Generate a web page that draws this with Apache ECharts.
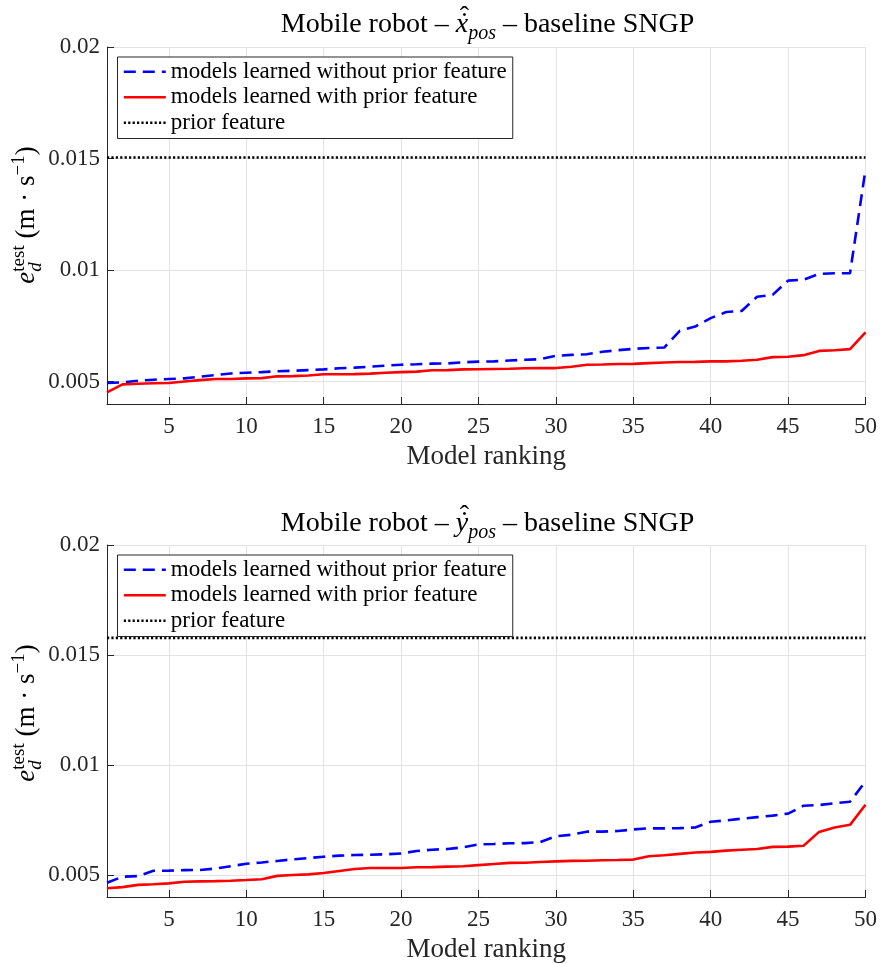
<!DOCTYPE html>
<html>
<head>
<meta charset="utf-8">
<script src="https://cdn.jsdelivr.net/npm/echarts@6/dist/echarts.min.js"></script>
<style>
  html, body { margin: 0; padding: 0; background: #fff; }
  #chart { width: 880px; height: 964px; }
</style>
</head>
<body>
<div id="chart"></div>
<script>
// Model ranking (x values)
const ranking = [1, 2, 3, 4, 5, 6, 7, 8, 9, 10, 11, 12, 13, 14, 15, 16, 17, 18, 19, 20,
  21, 22, 23, 24, 25, 26, 27, 28, 29, 30, 31, 32, 33, 34, 35, 36, 37, 38, 39, 40,
  41, 42, 43, 44, 45, 46, 47, 48, 49, 50];

// Tick positions and labels
const xTicks = [5, 10, 15, 20, 25, 30, 35, 40, 45, 50];
const yTicks = [0.005, 0.01, 0.015, 0.02];
const yTickLabels = ['0.005', '0.01', '0.015', '0.02'];

// x_pos test error, sorted per model
const xPosWithout = [0.00494, 0.00497, 0.00504, 0.00509, 0.00512, 0.00515, 0.00522, 0.00530, 0.00537, 0.00540,
  0.00543, 0.00547, 0.00549, 0.00552, 0.00555, 0.00560, 0.00563, 0.00567, 0.00572, 0.00576,
  0.00578, 0.00581, 0.00582, 0.00587, 0.00590, 0.00591, 0.00595, 0.00598, 0.00601, 0.00616,
  0.00620, 0.00623, 0.00634, 0.00641, 0.00647, 0.00651, 0.00653, 0.00728, 0.00747, 0.00785,
  0.00812, 0.00817, 0.00881, 0.00889, 0.00953, 0.00957, 0.00983, 0.00986, 0.00986, 0.01451];
const xPosWith = [0.00452, 0.00488, 0.00491, 0.00493, 0.00494, 0.00501, 0.00507, 0.00512, 0.00512, 0.00515,
  0.00516, 0.00524, 0.00525, 0.00528, 0.00533, 0.00533, 0.00534, 0.00536, 0.00540, 0.00543,
  0.00545, 0.00551, 0.00552, 0.00555, 0.00556, 0.00557, 0.00558, 0.00560, 0.00561, 0.00561,
  0.00567, 0.00576, 0.00577, 0.00579, 0.00580, 0.00583, 0.00586, 0.00588, 0.00589, 0.00591,
  0.00591, 0.00594, 0.00598, 0.00610, 0.00612, 0.00619, 0.00638, 0.00641, 0.00646, 0.00721];
const xPosPrior = 0.01505;

// y_pos test error, sorted per model
const yPosWithout = [0.00465, 0.00492, 0.00495, 0.00519, 0.00520, 0.00522, 0.00523, 0.00529, 0.00540, 0.00551,
  0.00557, 0.00564, 0.00571, 0.00577, 0.00583, 0.00588, 0.00591, 0.00592, 0.00594, 0.00598,
  0.00609, 0.00615, 0.00618, 0.00626, 0.00639, 0.00641, 0.00644, 0.00645, 0.00650, 0.00676,
  0.00683, 0.00697, 0.00697, 0.00700, 0.00707, 0.00712, 0.00712, 0.00713, 0.00716, 0.00742,
  0.00748, 0.00756, 0.00763, 0.00770, 0.00779, 0.00815, 0.00818, 0.00826, 0.00833, 0.00925];
const yPosWith = [0.00440, 0.00445, 0.00455, 0.00458, 0.00462, 0.00469, 0.00471, 0.00472, 0.00474, 0.00477,
  0.00481, 0.00496, 0.00500, 0.00503, 0.00509, 0.00518, 0.00527, 0.00532, 0.00532, 0.00532,
  0.00535, 0.00536, 0.00538, 0.00540, 0.00545, 0.00550, 0.00555, 0.00556, 0.00559, 0.00562,
  0.00564, 0.00565, 0.00567, 0.00568, 0.00570, 0.00585, 0.00590, 0.00596, 0.00602, 0.00605,
  0.00611, 0.00615, 0.00618, 0.00628, 0.00629, 0.00633, 0.00696, 0.00716, 0.00728, 0.00819];
const yPosPrior = 0.01578;

const seriesNames = ['models learned without prior feature', 'models learned with prior feature', 'prior feature'];
const xName = 'Model ranking';
const xRange = [1, 50];
const yRange = [0.004, 0.02];

const FONT = '"Liberation Serif", "Times New Roman", serif';
const AXIS_COLOR = '#262626';
const GRID_COLOR = '#e3e3e3';
const LINE_W = 2.6;

const mctx = document.createElement('canvas').getContext('2d');
function textWidth(t, size, italic) {
  mctx.font = (italic ? 'italic ' : '') + size + 'px ' + FONT;
  return mctx.measureText(t).width;
}

// Lays out a run of text pieces on a common baseline; pieces flagged
// "stack" share the horizontal slot of the preceding piece.
function layoutRun(pieces) {
  let x = 0;
  const out = [];
  let slotStart = 0, slotWidth = 0;
  pieces.forEach(p => {
    const w = textWidth(p.t, p.s, p.it);
    let px;
    if (p.stack) {
      px = slotStart;
      slotWidth = Math.max(slotWidth, w);
      x = slotStart + slotWidth;
    } else {
      px = x;
      slotStart = x;
      slotWidth = w;
      x += w;
    }
    out.push({ p, x: px, w });
  });
  return { items: out, width: x };
}

function textEl(t, x, baseline, size, italic, align) {
  return {
    type: 'text',
    x: x,
    y: baseline - 0.3375 * size,
    style: {
      text: t,
      fontSize: size,
      fontFamily: FONT,
      fontStyle: italic ? 'italic' : 'normal',
      fill: '#000',
      align: align || 'left',
      verticalAlign: 'middle'
    }
  };
}

// Panel title with a dotted-hat symbol and "pos" subscript
function buildTitle(cx, baseline, symbol) {
  const S = 28, s = 20;
  const pieces = [
    { t: 'Mobile robot \u2013 ', s: S },
    { t: symbol, s: S, it: true, accent: true },
    { t: 'pos', s: s, it: true, dy: 6 },
    { t: ' \u2013 baseline SNGP', s: S }
  ];
  const run = layoutRun(pieces);
  const x0 = cx - run.width / 2;
  const els = [];
  run.items.forEach(({ p, x, w }) => {
    els.push(textEl(p.t, x0 + x, baseline + (p.dy || 0), p.s, p.it));
    if (p.accent) {
      const ac = x0 + x + w / 2 + 2.5;
      els.push(textEl('\u02D9', ac, baseline - 1, S, false, 'center'));
      els.push(textEl('\u02C6', ac, baseline - 7, S, false, 'center'));
    }
  });
  return els;
}

// Rotated y-axis label: e_d^test (m · s^-1)
function buildYLabel(cx, cy) {
  const pieces = [
    { t: 'e', s: 27, it: true },
    { t: 'test', s: 19, dy: -11 },
    { t: 'd', s: 19, it: true, dy: 6, stack: true },
    { t: ' (m \u00B7 s', s: 27 },
    { t: '\u22121', s: 19, dy: -11 },
    { t: ')', s: 27 }
  ];
  const run = layoutRun(pieces);
  const x0 = -run.width / 2;
  const base = 8;
  const children = run.items.map(({ p, x }) =>
    textEl(p.t, x0 + x, base + (p.dy || 0), p.s, p.it));
  return { type: 'group', x: cx, y: cy, rotation: Math.PI / 2, children };
}

const panels = [
  { top: 47, without: xPosWithout, withP: xPosWith, prior: xPosPrior, symbol: 'x', legendTop: 57, titleBase: 34 },
  { top: 545, without: yPosWithout, withP: yPosWith, prior: yPosPrior, symbol: 'y', legendTop: 555, titleBase: 533 }
];
const GRID_LEFT = 107, GRID_WIDTH = 761, GRID_HEIGHT = 357;

const option = {
  backgroundColor: '#fff',
  animation: false,
  grid: panels.map(p => ({ left: GRID_LEFT, top: p.top, width: GRID_WIDTH, height: GRID_HEIGHT })),
  xAxis: panels.map((p, i) => ({
    type: 'value', gridIndex: i, min: xRange[0], max: xRange[1],
    name: xName, nameLocation: 'middle', nameGap: 39,
    nameTextStyle: { fontSize: 27, fontFamily: FONT, color: AXIS_COLOR },
    axisLine: { show: true, lineStyle: { color: AXIS_COLOR, width: 1 } },
    axisTick: { show: true, inside: true, length: 7, customValues: xTicks, lineStyle: { color: AXIS_COLOR } },
    axisLabel: { customValues: xTicks, fontSize: 23, fontFamily: FONT, color: AXIS_COLOR, margin: 11 },
    splitLine: { show: true, lineStyle: { color: GRID_COLOR, width: 1 } }
  })),
  yAxis: panels.map((p, i) => ({
    type: 'value', gridIndex: i, min: yRange[0], max: yRange[1],
    axisLine: { show: true, lineStyle: { color: AXIS_COLOR, width: 1 } },
    axisTick: { show: true, inside: true, length: 7, customValues: yTicks, lineStyle: { color: AXIS_COLOR } },
    axisLabel: {
      customValues: yTicks, fontSize: 23, fontFamily: FONT, color: AXIS_COLOR, margin: 7,
      formatter: v => yTickLabels[yTicks.findIndex(t => Math.abs(t - v) < 1e-9)] ?? ''
    },
    splitLine: { show: true, lineStyle: { color: GRID_COLOR, width: 1 } }
  })),
  legend: panels.map(p => ({
    orient: 'vertical', left: 117.5, top: p.legendTop,
    data: seriesNames,
    itemWidth: 42, itemHeight: 14, itemGap: 0,
    padding: [2, 6, 3, 5],
    borderColor: AXIS_COLOR, borderWidth: 1, backgroundColor: '#fff',
    itemStyle: { opacity: 0 },
    lineStyle: { width: LINE_W },
    textStyle: { fontSize: 23, fontFamily: FONT, color: '#000', lineHeight: 25.5 },
    selectedMode: false, z: 10
  })),
  series: panels.flatMap((p, i) => [
    {
      name: seriesNames[0], type: 'line', xAxisIndex: i, yAxisIndex: i,
      data: ranking.map((r, k) => [r, p.without[k]]),
      symbol: 'none', z: 3,
      lineStyle: { color: '#0000ff', width: LINE_W, type: [12, 7] },
      itemStyle: { color: '#0000ff' }
    },
    {
      name: seriesNames[1], type: 'line', xAxisIndex: i, yAxisIndex: i,
      data: ranking.map((r, k) => [r, p.withP[k]]),
      symbol: 'none', z: 4,
      lineStyle: { color: '#ff0000', width: LINE_W, type: 'solid' },
      itemStyle: { color: '#ff0000' }
    },
    {
      name: seriesNames[2], type: 'line', xAxisIndex: i, yAxisIndex: i,
      data: [[xRange[0], p.prior], [xRange[1], p.prior]],
      symbol: 'none', z: 2,
      lineStyle: { color: '#000000', width: LINE_W, type: [2.2, 2.2] },
      itemStyle: { color: '#000000' }
    }
  ]),
  graphic: panels.flatMap(p => [
    ...buildTitle(GRID_LEFT + GRID_WIDTH / 2, p.titleBase, p.symbol),
    buildYLabel(28, p.top + 168)
  ])
};

const chart = echarts.init(document.getElementById('chart'), null, { renderer: 'canvas' });
chart.setOption(option);
</script>
</body>
</html>
